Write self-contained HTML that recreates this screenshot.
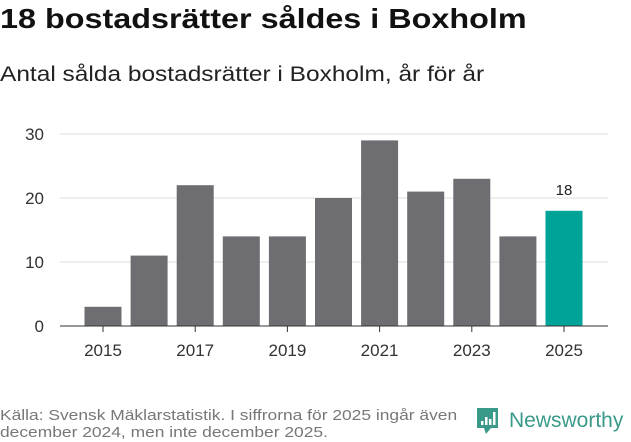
<!DOCTYPE html>
<html><head><meta charset="utf-8"><style>
body{margin:0;width:631px;height:439px;background:#fff;font-family:"Liberation Sans","DejaVu Sans",sans-serif;overflow:hidden;position:relative}
.t{position:absolute;left:0;top:3px;font-size:28px;font-weight:bold;color:#111;white-space:nowrap;transform:scaleX(1.155);transform-origin:0 0}
.s{position:absolute;left:0;top:63px;font-size:21px;color:#222;white-space:nowrap;transform:scaleX(1.165);transform-origin:0 0}
.f{position:absolute;left:0;top:407px;font-size:15px;color:#777;line-height:17px;white-space:nowrap;transform:scaleX(1.16);transform-origin:0 0}
</style></head><body>
<div class="t">18 bostadsrätter såldes i Boxholm</div>
<div class="s">Antal sålda bostadsrätter i Boxholm, år för år</div>
<svg id="c" width="631" height="439" style="position:absolute;left:0;top:0"></svg>
<div class="f">Källa: Svensk Mäklarstatistik. I siffrorna för 2025 ingår även<br>december 2024, men inte december 2025.</div>
<svg width="155" height="40" style="position:absolute;left:474px;top:402px">
<path d="M3 6h21v20h-7l-5 6l-2-6h-7z" fill="#3a9a8a"/>
<rect x="7" y="19" width="2.5" height="4" fill="#fff"/><rect x="11" y="15" width="2.5" height="8" fill="#fff"/><rect x="15" y="17" width="2.5" height="6" fill="#fff"/><rect x="19" y="10" width="2.5" height="13" fill="#fff"/>
<text x="35" y="25" font-size="21" font-family="Liberation Sans, sans-serif" fill="#3a9a8a">Newsworthy</text>
</svg>
<script>
const years=[2015,2016,2017,2018,2019,2020,2021,2022,2023,2024,2025];
const values=[3,11,22,14,14,20,29,21,23,14,18];
const yTicks=[0,10,20,30];
const xLabels=[2015,2017,2019,2021,2023,2025];
const svg=document.getElementById('c');const NS='http://www.w3.org/2000/svg';
const y=v=>326-v*6.4;const x=i=>103+i*46.1;
function mk(t,a){const e=document.createElementNS(NS,t);for(const k in a)e.setAttribute(k,a[k]);svg.appendChild(e);return e;}
yTicks.forEach(v=>{const l=mk('line',{x1:60,x2:608,y1:y(v),y2:y(v),stroke:v?'#ddd':'#333','stroke-width':1});


const t=mk('text',{x:44,y:y(v)+6,'text-anchor':'end','font-size':17,fill:'#333'});t.textContent=v;

});
years.forEach((yr,i)=>{const last=i===years.length-1;
const r=mk('rect',{x:x(i)-18.5,y:y(values[i]),width:37,height:326-y(values[i]),fill:last?'#00a398':'#6e6d72'});


if(last){const t=mk('text',{x:x(i),y:y(values[i])-16,'text-anchor':'middle','font-size':15,fill:'#222'});t.textContent=values[i];

}});
mk('line',{x1:60,x2:608,y1:326,y2:326,stroke:'#333'});
xLabels.forEach(yr=>{const i=years.indexOf(yr);
mk('line',{x1:x(i),x2:x(i),y1:326,y2:332,stroke:'#333'});
const t=mk('text',{x:x(i),y:356,'text-anchor':'middle','font-size':17,fill:'#333'});t.textContent=yr;

});
</script>
</body></html>
